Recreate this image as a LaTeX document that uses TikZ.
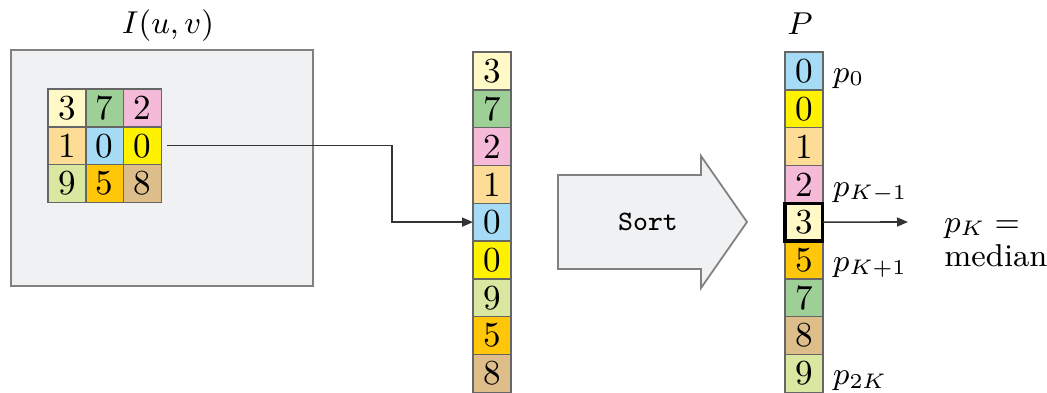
\documentclass[tikz,border=0pt]{standalone}
\usepackage{amsmath}
\usetikzlibrary{arrows.meta,positioning,calc}

\definecolor{imgbg}{RGB}{240,241,243}
\definecolor{pthree}{RGB}{255,249,200}
\definecolor{pseven}{RGB}{157,207,151}
\definecolor{ptwo}{RGB}{245,186,216}
\definecolor{pone}{RGB}{253,221,149}
\definecolor{pzeroa}{RGB}{166,219,246}
\definecolor{pzerob}{RGB}{255,242,0}
\definecolor{pnine}{RGB}{217,231,160}
\definecolor{pfive}{RGB}{255,198,10}
\definecolor{peight}{RGB}{221,189,138}

\begin{document}
\begin{tikzpicture}[
	pix/.style={draw=black!60, line width=0.4pt, minimum size=0.378cm, inner sep=0pt, outer sep=0pt},
	lbl/.style={anchor=base west, font=\small},
	conn/.style={black!80, line width=0.45pt, -{Triangle[length=1.1mm,width=0.9mm]}}]
	\useasboundingbox (0,0) rectangle (10.47,-3.92);
	% image I(u,v)
	\draw [black!50, fill=imgbg, line width=0.6pt] (0.11,-0.50) rectangle (3.13,-2.86);
	\node [font=\small] (img) at (1.68,-0.255) {$I(u,v)$};
	% 3x3 neighbourhood
	\foreach \v/\c [count=\i from 0] in {3/pthree,7/pseven,2/ptwo,1/pone,0/pzeroa,0/pzerob,9/pnine,5/pfive,8/peight} {
		\pgfmathtruncatemacro\row{int(\i/3)}
		\pgfmathtruncatemacro\col{mod(\i,3)}
		\node [pix, fill=\c] (g\row\col) at (0.669+0.378*\col, -1.079-0.378*\row) {\v};
	}
	% unsorted vector
	\foreach \v/\c [count=\i from 0] in {3/pthree,7/pseven,2/ptwo,1/pone,0/pzeroa,0/pzerob,9/pnine,5/pfive,8/peight}
		\node [pix, fill=\c] (m\i) at (4.919, -0.709-0.378*\i) {\v};
	% sort arrow
	\draw [black!50, fill=imgbg, line width=0.5pt] (5.58,-1.75) -- (7.01,-1.75) -- (7.01,-1.56) -- (7.47,-2.22)
		-- (7.01,-2.88) -- (7.01,-2.69) -- (5.58,-2.69) -- cycle;
	\node (sort) at (6.48,-2.22) {\footnotesize\ttfamily Sort};
	% sorted vector P
	\foreach \v/\c [count=\i from 0] in {0/pzeroa,0/pzerob,1/pone,2/ptwo,3/pthree,5/pfive,7/pseven,8/peight,9/pnine}
		\node [pix, fill=\c] (s\i) at (8.039, -0.709-0.378*\i) {\v};
	\draw [black, line width=0.9pt] (s4.south west) rectangle (s4.north east);
	\node [font=\small] (P) at (8.00,-0.235) {$P$};
	\node [lbl] (p0) at ([xshift=-0.02cm]s0.base east) {$p_0$};
	\node [lbl] (pkm) at ([xshift=-0.02cm]s3.base east) {$p_{K-1}$};
	\node [lbl] (pkp) at ([xshift=-0.02cm]s5.base east) {$p_{K+1}$};
	\node [lbl] (p2k) at ([xshift=-0.02cm]s8.base east) {$p_{2K}$};
	\node [lbl] (pk) at (9.32,-2.32) {$p_K =$};
	\node [lbl] (med) at (9.32,-2.66) {median};
	% connectors
	\coordinate (bend) at (3.92,0);
	\coordinate (tip) at (9.08,-2.22);
	\draw [conn, shorten <=0.06cm] (g12.east) -- (g12.east -| bend) |- (m4.west);
	\draw [conn] (s4.east) -- (tip);
\end{tikzpicture}
\end{document}
